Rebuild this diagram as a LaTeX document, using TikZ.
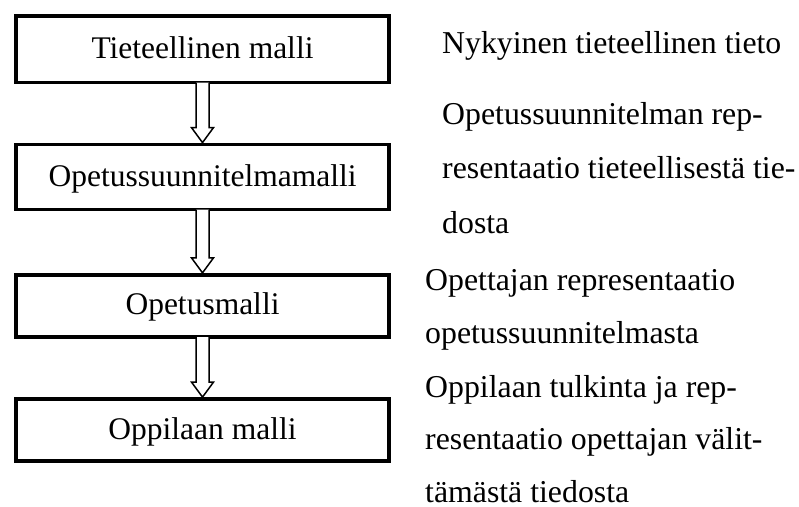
\documentclass[tikz,border=0pt]{standalone}
\usepackage{fontspec}
\setmainfont{Liberation Serif}
\usetikzlibrary{calc}
\begin{document}
\begin{tikzpicture}[x=1pt,y=-1pt,
  model/.style={draw=black,line width=3.8pt,fill=white,minimum width=373pt,inner sep=0pt,
     text height=22pt,text depth=4pt,font=\fontsize{31.5}{37}\selectfont},
  desc/.style={anchor=base west,inner sep=0pt,font=\fontsize{31.8}{37}\selectfont},
  hollow/.style={draw=black,line width=1.5pt,fill=white,line join=miter}]
\useasboundingbox (0,0) rectangle (799,506);
% boxes
\node[model,minimum height=66.8pt] (m1) at (202.5,49.1) {Tieteellinen malli};
\node[model,minimum height=65pt] (m2) at (202.5,177) {Opetussuunnitelmamalli};
\node[model,minimum height=62.3pt] (m3) at (202.5,305.9) {Opetusmalli};
\node[model,minimum height=62pt] (m4) at (202.5,430) {Oppilaan malli};
% hollow arrows
\foreach \a/\b in {m1/m2,m2/m3,m3/m4}{
  \path (\a.south) ++(0,-1.9) coordinate (s);
  \path (\b.north) coordinate (t);
  \draw[hollow] ($(s)+(-6.5,0)$) -- ($(t)+(-6.5,-15)$) -- ($(t)+(-11,-15)$) -- (t)
     -- ($(t)+(11,-15)$) -- ($(t)+(6.5,-15)$) -- ($(s)+(6.5,0)$);
}
% descriptions
\node[desc] (d1) at (442,53.5) {Nykyinen tieteellinen tieto};
\node[desc] (d2a) at (442,124) {Opetussuunnitelman rep-};
\node[desc] (d2b) at (442,178.5) {resentaatio tieteellisestä tie-};
\node[desc] (d2c) at (442,233) {dosta};
\node[desc] (d3a) at (425,290) {Opettajan representaatio};
\node[desc] (d3b) at (425,343) {opetussuunnitelmasta};
\node[desc] (d4a) at (425,397) {Oppilaan tulkinta ja rep-};
\node[desc] (d4b) at (425,449.5) {resentaatio opettajan välit-};
\node[desc] (d4c) at (425,502) {tämästä tiedosta};
\end{tikzpicture}
\end{document}
